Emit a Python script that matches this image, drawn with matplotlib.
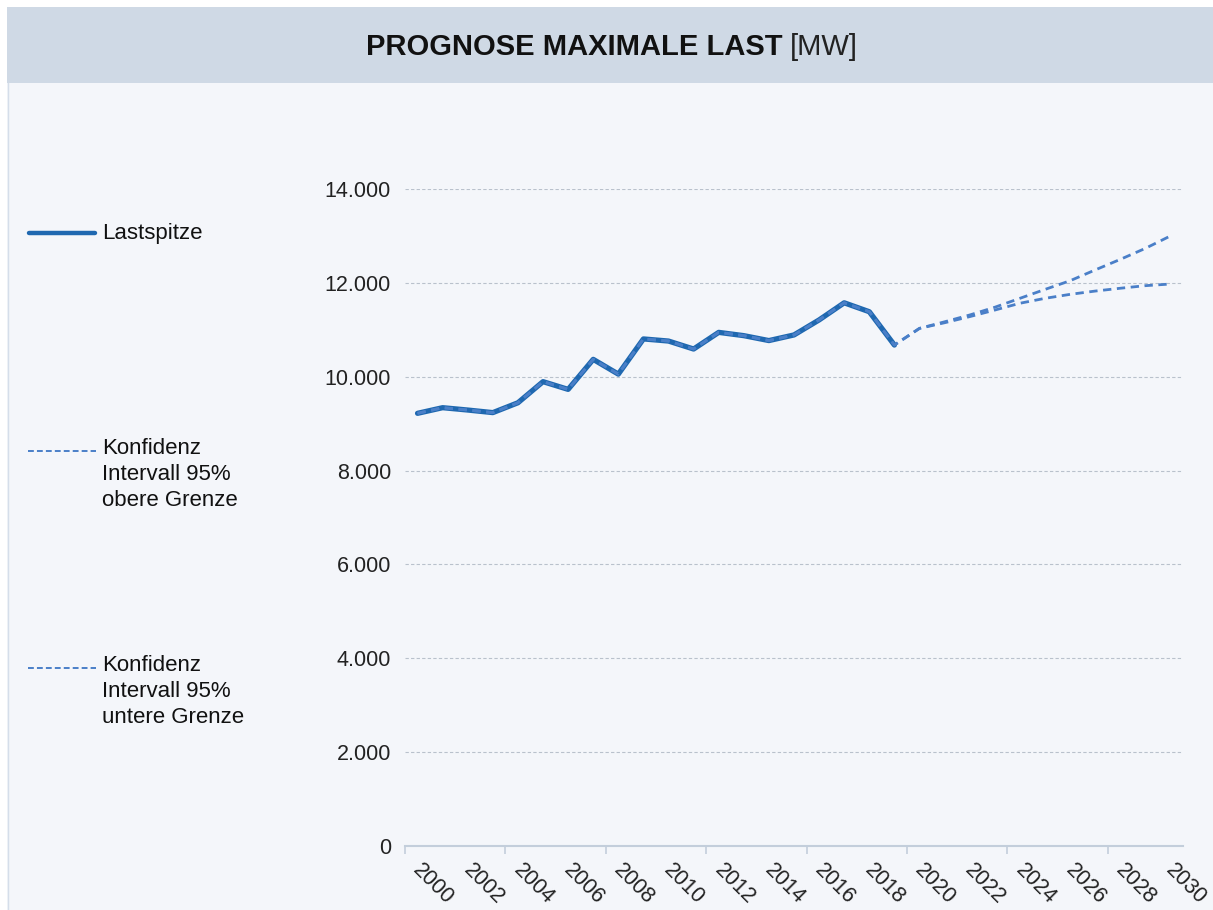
import matplotlib
matplotlib.use("Agg")
import matplotlib.pyplot as plt
from matplotlib.patches import Rectangle
from matplotlib.lines import Line2D
from matplotlib.ticker import FuncFormatter, FixedLocator
from matplotlib.transforms import ScaledTranslation

plt.rcParams['font.family'] = ['Liberation Sans', 'DejaVu Sans']

# ---- data ----
years = list(range(2000, 2031))
hist_years = list(range(2000, 2020))
lastspitze = [9220, 9340, 9290, 9235, 9445, 9895, 9730, 10370, 10055, 10805,
              10760, 10590, 10945, 10875, 10770, 10890, 11210, 11575, 11385, 10675]
fc_years = list(range(2020, 2031))
obere = [11030, 11170, 11315, 11480, 11670, 11860, 12045, 12275, 12500, 12735, 13000]
untere = [11030, 11150, 11280, 11420, 11565, 11670, 11755, 11825, 11885, 11940, 11975]
y_ticks = [0, 2000, 4000, 6000, 8000, 10000, 12000, 14000]
x_labels = [str(y) for y in range(2000, 2031, 2)]

title_bold = "PROGNOSE MAXIMALE LAST"
title_unit = "[MW]"
leg_main = "Lastspitze"
leg_up = "Konfidenz\nIntervall 95%\nobere Grenze"
leg_lo = "Konfidenz\nIntervall 95%\nuntere Grenze"

W, H = 1213, 910
fig = plt.figure(figsize=(W / 100, H / 100), dpi=100, facecolor="white")

def fx(px):
    return px / W

def fy(py):
    return 1 - py / H

# backgrounds
fig.patches.append(Rectangle((fx(7), 0), 1 - fx(7), fy(7), transform=fig.transFigure,
                             facecolor="#F4F6FA", edgecolor="none", zorder=-10))
fig.patches.append(Rectangle((fx(7), fy(83)), 1 - fx(7), fy(7) - fy(83), transform=fig.transFigure,
                             facecolor="#CFD9E5", edgecolor="none", zorder=-9))
fig.lines.append(Line2D([fx(7.5), fx(7.5)], [0, fy(83)], transform=fig.transFigure,
                        color="#D5DEEA", lw=1))

# title (bold part + regular unit, centred together)
t1 = fig.text(0.5, fy(47), title_bold + " ", fontsize=21, fontweight="bold",
              ha="right", va="center", color="#111111")
t2 = fig.text(0.5, fy(47), title_unit, fontsize=21, ha="left", va="center", color="#222222")
fig.canvas.draw()
w1 = t1.get_window_extent().width
w2 = t2.get_window_extent().width
cx = 612
xs = cx - (w1 + w2) / 2 + w1
t1.set_position((fx(xs), fy(47)))
t2.set_position((fx(xs), fy(47)))

# axes
left, right = 405, 1183
top, bottom = 189, 846
ax = fig.add_axes([fx(left), fy(bottom), fx(right - left), fy(top) - fy(bottom)])
ax.set_facecolor("none")

idx = {y: i for i, y in enumerate(years)}
hx = [idx[y] for y in hist_years]
up_full = lastspitze + obere
lo_full = lastspitze + untere
allx = hx + [idx[y] for y in fc_years]

ax.plot(hx, lastspitze, color="#1F68B0", lw=3.8, solid_capstyle="round",
        solid_joinstyle="round", zorder=3)
ax.plot(allx, up_full, color="#4A7FC8", lw=2.0, ls=(0, (3, 2)), zorder=4)
ax.plot(allx, lo_full, color="#4A7FC8", lw=2.0, ls=(0, (3, 2)), zorder=4)

ax.set_xlim(-0.5, len(years) - 0.5)
ax.set_ylim(0, 14000)

for yv in y_ticks[1:]:
    ax.axhline(yv, color="#B9C1CC", lw=0.8, ls=(0, (3, 2)), zorder=1)

ax.set_yticks(y_ticks)
ax.yaxis.set_major_formatter(FuncFormatter(lambda v, p: f"{int(v):,}".replace(",", ".")))
ax.tick_params(axis="y", length=0, pad=10, labelsize=15.5, labelcolor="#222222")

ax.set_xticks([idx[int(s)] for s in x_labels])
ax.set_xticklabels(x_labels, rotation=-45, ha="left", va="top", rotation_mode="anchor",
                   fontsize=15.5, color="#222222")
ax.tick_params(axis="x", which="major", length=0, pad=10)
ax.xaxis.set_minor_locator(FixedLocator([-0.5 + 4 * k for k in range(8)]))
ax.tick_params(axis="x", which="minor", length=6, color="#C3CEDB", width=1.2)
off = ScaledTranslation(6 / 100, 0, fig.dpi_scale_trans)
for lbl in ax.get_xticklabels():
    lbl.set_transform(lbl.get_transform() + off)

for s in ["top", "right", "left"]:
    ax.spines[s].set_visible(False)
ax.spines["bottom"].set_color("#C3CEDB")
ax.spines["bottom"].set_linewidth(1.5)

# legend (manual)
fig.lines.append(Line2D([fx(29), fx(95)], [fy(233), fy(233)], transform=fig.transFigure,
                        color="#1F68B0", lw=3.2, solid_capstyle="round"))
fig.text(fx(102), fy(233), leg_main, fontsize=16, ha="left", va="center", color="#111111")
for ly, txt in [(451, leg_up), (668, leg_lo)]:
    fig.lines.append(Line2D([fx(28), fx(96)], [fy(ly), fy(ly)], transform=fig.transFigure,
                            color="#4A7FC8", lw=1.4, ls=(0, (3, 1.6))))
    fig.text(fx(102), fy(ly - 13), txt, fontsize=16, ha="left", va="top", color="#111111",
             linespacing=1.3)

fig.savefig("out.png", dpi=100, facecolor="white")
